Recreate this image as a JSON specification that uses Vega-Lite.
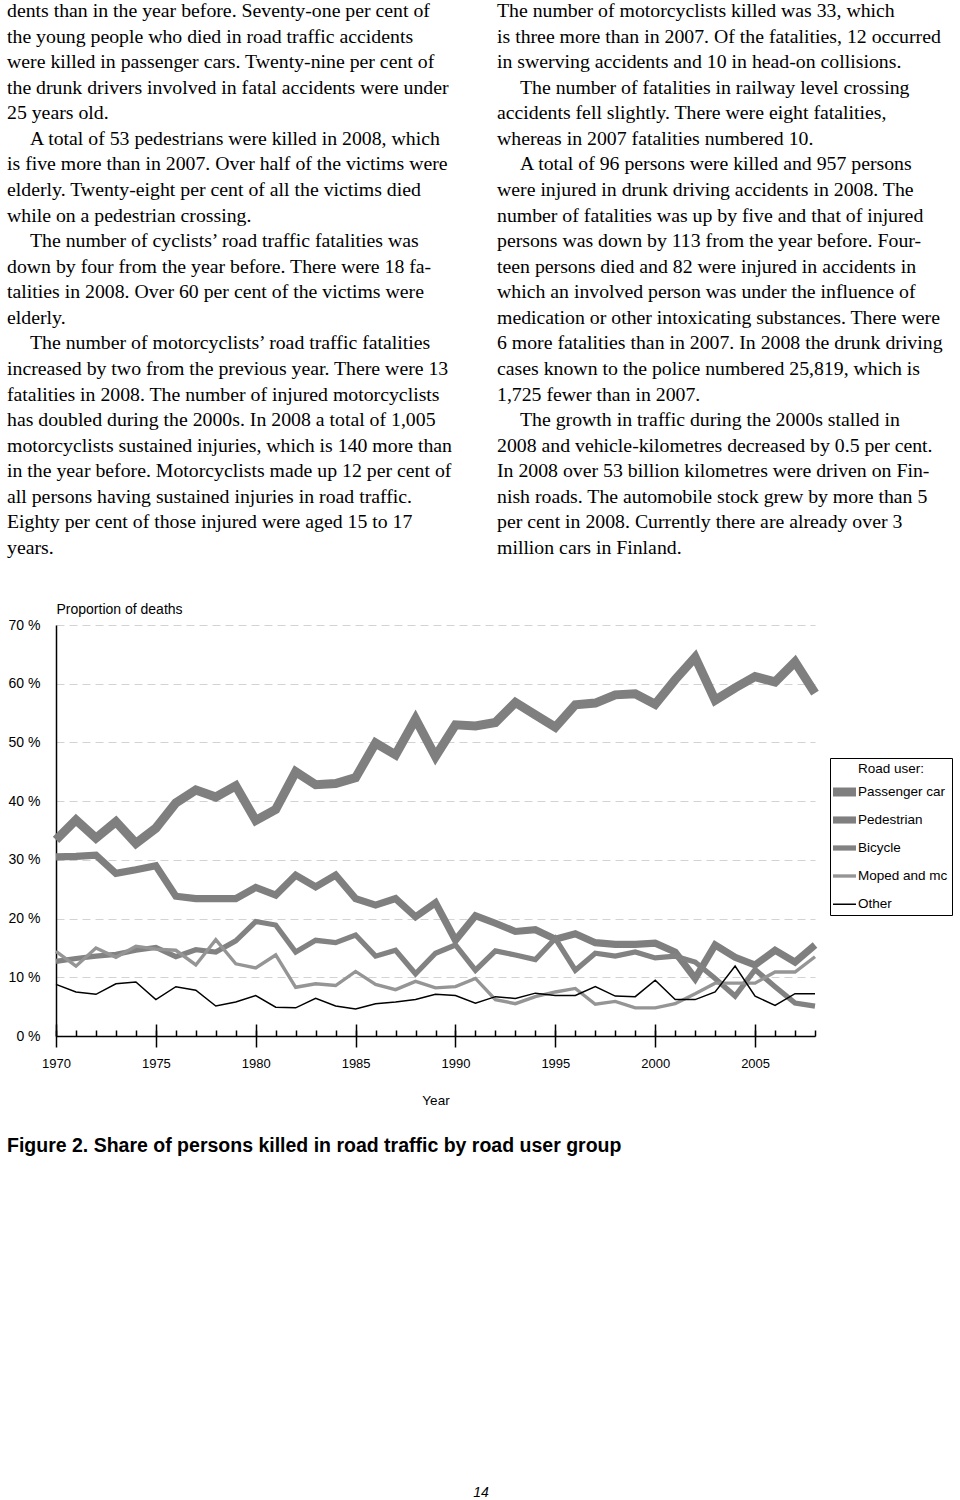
{
  "$schema": "https://vega.github.io/schema/vega-lite/v6.json",
  "padding": 0,
  "background": "white",
  "spacing": 0,
  "bounds": "flush",
  "config": {"view": {"stroke": null}},
  "vconcat": [
    {
      "width": 960,
      "height": 625,
      "data": {"values": [
        {"col": 0, "line": 1, "indent": false, "text": "dents than in the year before. Seventy-one per cent of"},
        {"col": 0, "line": 2, "indent": false, "text": "the young people who died in road traffic accidents"},
        {"col": 0, "line": 3, "indent": false, "text": "were killed in passenger cars. Twenty-nine per cent of"},
        {"col": 0, "line": 4, "indent": false, "text": "the drunk drivers involved in fatal accidents were under"},
        {"col": 0, "line": 5, "indent": false, "text": "25 years old."},
        {"col": 0, "line": 6, "indent": true, "text": "A total of 53 pedestrians were killed in 2008, which"},
        {"col": 0, "line": 7, "indent": false, "text": "is five more than in 2007. Over half of the victims were"},
        {"col": 0, "line": 8, "indent": false, "text": "elderly. Twenty-eight per cent of all the victims died"},
        {"col": 0, "line": 9, "indent": false, "text": "while on a pedestrian crossing."},
        {"col": 0, "line": 10, "indent": true, "text": "The number of cyclists’ road traffic fatalities was"},
        {"col": 0, "line": 11, "indent": false, "text": "down by four from the year before. There were 18 fa-"},
        {"col": 0, "line": 12, "indent": false, "text": "talities in 2008. Over 60 per cent of the victims were"},
        {"col": 0, "line": 13, "indent": false, "text": "elderly."},
        {"col": 0, "line": 14, "indent": true, "text": "The number of motorcyclists’ road traffic fatalities"},
        {"col": 0, "line": 15, "indent": false, "text": "increased by two from the previous year. There were 13"},
        {"col": 0, "line": 16, "indent": false, "text": "fatalities in 2008. The number of injured motorcyclists"},
        {"col": 0, "line": 17, "indent": false, "text": "has doubled during the 2000s. In 2008 a total of 1,005"},
        {"col": 0, "line": 18, "indent": false, "text": "motorcyclists sustained injuries, which is 140 more than"},
        {"col": 0, "line": 19, "indent": false, "text": "in the year before. Motorcyclists made up 12 per cent of"},
        {"col": 0, "line": 20, "indent": false, "text": "all persons having sustained injuries in road traffic."},
        {"col": 0, "line": 21, "indent": false, "text": "Eighty per cent of those injured were aged 15 to 17"},
        {"col": 0, "line": 22, "indent": false, "text": "years."},
        {"col": 1, "line": 1, "indent": false, "text": "The number of motorcyclists killed was 33, which"},
        {"col": 1, "line": 2, "indent": false, "text": "is three more than in 2007. Of the fatalities, 12 occurred"},
        {"col": 1, "line": 3, "indent": false, "text": "in swerving accidents and 10 in head-on collisions."},
        {"col": 1, "line": 4, "indent": true, "text": "The number of fatalities in railway level crossing"},
        {"col": 1, "line": 5, "indent": false, "text": "accidents fell slightly. There were eight fatalities,"},
        {"col": 1, "line": 6, "indent": false, "text": "whereas in 2007 fatalities numbered 10."},
        {"col": 1, "line": 7, "indent": true, "text": "A total of 96 persons were killed and 957 persons"},
        {"col": 1, "line": 8, "indent": false, "text": "were injured in drunk driving accidents in 2008. The"},
        {"col": 1, "line": 9, "indent": false, "text": "number of fatalities was up by five and that of injured"},
        {"col": 1, "line": 10, "indent": false, "text": "persons was down by 113 from the year before. Four-"},
        {"col": 1, "line": 11, "indent": false, "text": "teen persons died and 82 were injured in accidents in"},
        {"col": 1, "line": 12, "indent": false, "text": "which an involved person was under the influence of"},
        {"col": 1, "line": 13, "indent": false, "text": "medication or other intoxicating substances. There were"},
        {"col": 1, "line": 14, "indent": false, "text": "6 more fatalities than in 2007. In 2008 the drunk driving"},
        {"col": 1, "line": 15, "indent": false, "text": "cases known to the police numbered 25,819, which is"},
        {"col": 1, "line": 16, "indent": false, "text": "1,725 fewer than in 2007."},
        {"col": 1, "line": 17, "indent": true, "text": "The growth in traffic during the 2000s stalled in"},
        {"col": 1, "line": 18, "indent": false, "text": "2008 and vehicle-kilometres decreased by 0.5 per cent."},
        {"col": 1, "line": 19, "indent": false, "text": "In 2008 over 53 billion kilometres were driven on Fin-"},
        {"col": 1, "line": 20, "indent": false, "text": "nish roads. The automobile stock grew by more than 5"},
        {"col": 1, "line": 21, "indent": false, "text": "per cent in 2008. Currently there are already over 3"},
        {"col": 1, "line": 22, "indent": false, "text": "million cars in Finland."}
      ]},
      "encoding": {
        "x": {"field": "col", "type": "quantitative", "scale": {"domain": [0, 1], "range": [7, 497], "nice": false, "zero": false}, "axis": null},
        "y": {"field": "line", "type": "quantitative", "scale": {"domain": [1, 22], "range": [11, 548], "nice": false, "zero": false}, "axis": null},
        "text": {"field": "text", "type": "nominal"}
      },
      "layer": [
        {"transform": [{"filter": "!datum.indent"}], "mark": {"type": "text", "align": "left", "baseline": "middle", "font": "Liberation Serif", "fontSize": 19.8, "color": "black"}},
        {"transform": [{"filter": "datum.indent"}], "mark": {"type": "text", "align": "left", "baseline": "middle", "font": "Liberation Serif", "fontSize": 19.8, "color": "black", "dx": 23}}
      ]
    },
    {
      "spacing": 0,
      "bounds": "flush",
      "hconcat": [
        {"width": 56, "height": 411, "data": {"values": []}, "mark": "text", "encoding": {}},
        {
          "width": 759,
          "height": 411,
          "data": {"values": [
            {"year":1970,"user":"Passenger car","pct":33.4},{"year":1971,"user":"Passenger car","pct":36.8},{"year":1972,"user":"Passenger car","pct":33.7},{"year":1973,"user":"Passenger car","pct":36.5},{"year":1974,"user":"Passenger car","pct":32.8},{"year":1975,"user":"Passenger car","pct":35.4},{"year":1976,"user":"Passenger car","pct":39.7},{"year":1977,"user":"Passenger car","pct":41.9},{"year":1978,"user":"Passenger car","pct":40.7},{"year":1979,"user":"Passenger car","pct":42.6},{"year":1980,"user":"Passenger car","pct":36.7},{"year":1981,"user":"Passenger car","pct":38.6},{"year":1982,"user":"Passenger car","pct":45.0},{"year":1983,"user":"Passenger car","pct":42.8},{"year":1984,"user":"Passenger car","pct":43.0},{"year":1985,"user":"Passenger car","pct":44.0},{"year":1986,"user":"Passenger car","pct":49.9},{"year":1987,"user":"Passenger car","pct":47.9},{"year":1988,"user":"Passenger car","pct":54.0},{"year":1989,"user":"Passenger car","pct":47.6},{"year":1990,"user":"Passenger car","pct":53.0},{"year":1991,"user":"Passenger car","pct":52.8},{"year":1992,"user":"Passenger car","pct":53.4},{"year":1993,"user":"Passenger car","pct":56.8},{"year":1994,"user":"Passenger car","pct":54.7},{"year":1995,"user":"Passenger car","pct":52.6},{"year":1996,"user":"Passenger car","pct":56.4},{"year":1997,"user":"Passenger car","pct":56.7},{"year":1998,"user":"Passenger car","pct":58.1},{"year":1999,"user":"Passenger car","pct":58.3},{"year":2000,"user":"Passenger car","pct":56.5},{"year":2001,"user":"Passenger car","pct":60.7},{"year":2002,"user":"Passenger car","pct":64.5},{"year":2003,"user":"Passenger car","pct":57.2},{"year":2004,"user":"Passenger car","pct":59.3},{"year":2005,"user":"Passenger car","pct":61.2},{"year":2006,"user":"Passenger car","pct":60.3},{"year":2007,"user":"Passenger car","pct":63.7},{"year":2008,"user":"Passenger car","pct":58.4},
            {"year":1970,"user":"Pedestrian","pct":30.5},{"year":1971,"user":"Pedestrian","pct":30.6},{"year":1972,"user":"Pedestrian","pct":30.8},{"year":1973,"user":"Pedestrian","pct":27.7},{"year":1974,"user":"Pedestrian","pct":28.3},{"year":1975,"user":"Pedestrian","pct":29.0},{"year":1976,"user":"Pedestrian","pct":23.8},{"year":1977,"user":"Pedestrian","pct":23.4},{"year":1978,"user":"Pedestrian","pct":23.4},{"year":1979,"user":"Pedestrian","pct":23.4},{"year":1980,"user":"Pedestrian","pct":25.3},{"year":1981,"user":"Pedestrian","pct":24.0},{"year":1982,"user":"Pedestrian","pct":27.4},{"year":1983,"user":"Pedestrian","pct":25.4},{"year":1984,"user":"Pedestrian","pct":27.4},{"year":1985,"user":"Pedestrian","pct":23.4},{"year":1986,"user":"Pedestrian","pct":22.3},{"year":1987,"user":"Pedestrian","pct":23.4},{"year":1988,"user":"Pedestrian","pct":20.3},{"year":1989,"user":"Pedestrian","pct":22.7},{"year":1990,"user":"Pedestrian","pct":16.3},{"year":1991,"user":"Pedestrian","pct":20.5},{"year":1992,"user":"Pedestrian","pct":19.2},{"year":1993,"user":"Pedestrian","pct":17.8},{"year":1994,"user":"Pedestrian","pct":18.1},{"year":1995,"user":"Pedestrian","pct":16.5},{"year":1996,"user":"Pedestrian","pct":17.4},{"year":1997,"user":"Pedestrian","pct":15.9},{"year":1998,"user":"Pedestrian","pct":15.6},{"year":1999,"user":"Pedestrian","pct":15.6},{"year":2000,"user":"Pedestrian","pct":15.8},{"year":2001,"user":"Pedestrian","pct":14.3},{"year":2002,"user":"Pedestrian","pct":9.8},{"year":2003,"user":"Pedestrian","pct":15.5},{"year":2004,"user":"Pedestrian","pct":13.4},{"year":2005,"user":"Pedestrian","pct":12.1},{"year":2006,"user":"Pedestrian","pct":14.6},{"year":2007,"user":"Pedestrian","pct":12.6},{"year":2008,"user":"Pedestrian","pct":15.5},
            {"year":1970,"user":"Bicycle","pct":12.7},{"year":1971,"user":"Bicycle","pct":13.2},{"year":1972,"user":"Bicycle","pct":13.6},{"year":1973,"user":"Bicycle","pct":13.9},{"year":1974,"user":"Bicycle","pct":14.6},{"year":1975,"user":"Bicycle","pct":15.1},{"year":1976,"user":"Bicycle","pct":13.5},{"year":1977,"user":"Bicycle","pct":14.7},{"year":1978,"user":"Bicycle","pct":14.3},{"year":1979,"user":"Bicycle","pct":16.2},{"year":1980,"user":"Bicycle","pct":19.5},{"year":1981,"user":"Bicycle","pct":18.9},{"year":1982,"user":"Bicycle","pct":14.3},{"year":1983,"user":"Bicycle","pct":16.3},{"year":1984,"user":"Bicycle","pct":15.9},{"year":1985,"user":"Bicycle","pct":17.2},{"year":1986,"user":"Bicycle","pct":13.6},{"year":1987,"user":"Bicycle","pct":14.6},{"year":1988,"user":"Bicycle","pct":10.6},{"year":1989,"user":"Bicycle","pct":14.1},{"year":1990,"user":"Bicycle","pct":15.5},{"year":1991,"user":"Bicycle","pct":11.2},{"year":1992,"user":"Bicycle","pct":14.5},{"year":1993,"user":"Bicycle","pct":13.8},{"year":1994,"user":"Bicycle","pct":13.0},{"year":1995,"user":"Bicycle","pct":16.6},{"year":1996,"user":"Bicycle","pct":11.2},{"year":1997,"user":"Bicycle","pct":14.1},{"year":1998,"user":"Bicycle","pct":13.6},{"year":1999,"user":"Bicycle","pct":14.3},{"year":2000,"user":"Bicycle","pct":13.3},{"year":2001,"user":"Bicycle","pct":13.6},{"year":2002,"user":"Bicycle","pct":12.6},{"year":2003,"user":"Bicycle","pct":9.8},{"year":2004,"user":"Bicycle","pct":6.8},{"year":2005,"user":"Bicycle","pct":11.3},{"year":2006,"user":"Bicycle","pct":8.4},{"year":2007,"user":"Bicycle","pct":5.6},{"year":2008,"user":"Bicycle","pct":5.1},
            {"year":1970,"user":"Moped and mc","pct":14.4},{"year":1971,"user":"Moped and mc","pct":11.9},{"year":1972,"user":"Moped and mc","pct":15.0},{"year":1973,"user":"Moped and mc","pct":13.4},{"year":1974,"user":"Moped and mc","pct":15.3},{"year":1975,"user":"Moped and mc","pct":14.8},{"year":1976,"user":"Moped and mc","pct":14.6},{"year":1977,"user":"Moped and mc","pct":12.1},{"year":1978,"user":"Moped and mc","pct":16.4},{"year":1979,"user":"Moped and mc","pct":12.3},{"year":1980,"user":"Moped and mc","pct":11.6},{"year":1981,"user":"Moped and mc","pct":13.8},{"year":1982,"user":"Moped and mc","pct":8.3},{"year":1983,"user":"Moped and mc","pct":8.9},{"year":1984,"user":"Moped and mc","pct":8.6},{"year":1985,"user":"Moped and mc","pct":11.0},{"year":1986,"user":"Moped and mc","pct":8.8},{"year":1987,"user":"Moped and mc","pct":7.9},{"year":1988,"user":"Moped and mc","pct":9.3},{"year":1989,"user":"Moped and mc","pct":8.2},{"year":1990,"user":"Moped and mc","pct":8.4},{"year":1991,"user":"Moped and mc","pct":9.8},{"year":1992,"user":"Moped and mc","pct":6.2},{"year":1993,"user":"Moped and mc","pct":5.5},{"year":1994,"user":"Moped and mc","pct":6.7},{"year":1995,"user":"Moped and mc","pct":7.5},{"year":1996,"user":"Moped and mc","pct":8.1},{"year":1997,"user":"Moped and mc","pct":5.4},{"year":1998,"user":"Moped and mc","pct":5.9},{"year":1999,"user":"Moped and mc","pct":4.8},{"year":2000,"user":"Moped and mc","pct":4.8},{"year":2001,"user":"Moped and mc","pct":5.5},{"year":2002,"user":"Moped and mc","pct":7.2},{"year":2003,"user":"Moped and mc","pct":9.0},{"year":2004,"user":"Moped and mc","pct":9.0},{"year":2005,"user":"Moped and mc","pct":9.0},{"year":2006,"user":"Moped and mc","pct":10.9},{"year":2007,"user":"Moped and mc","pct":10.9},{"year":2008,"user":"Moped and mc","pct":13.5},
            {"year":1970,"user":"Other","pct":8.8},{"year":1971,"user":"Other","pct":7.5},{"year":1972,"user":"Other","pct":7.1},{"year":1973,"user":"Other","pct":8.9},{"year":1974,"user":"Other","pct":9.2},{"year":1975,"user":"Other","pct":6.2},{"year":1976,"user":"Other","pct":8.4},{"year":1977,"user":"Other","pct":7.8},{"year":1978,"user":"Other","pct":5.1},{"year":1979,"user":"Other","pct":5.8},{"year":1980,"user":"Other","pct":6.9},{"year":1981,"user":"Other","pct":4.9},{"year":1982,"user":"Other","pct":4.8},{"year":1983,"user":"Other","pct":6.4},{"year":1984,"user":"Other","pct":5.1},{"year":1985,"user":"Other","pct":4.6},{"year":1986,"user":"Other","pct":5.5},{"year":1987,"user":"Other","pct":5.8},{"year":1988,"user":"Other","pct":6.2},{"year":1989,"user":"Other","pct":7.1},{"year":1990,"user":"Other","pct":6.9},{"year":1991,"user":"Other","pct":5.6},{"year":1992,"user":"Other","pct":6.7},{"year":1993,"user":"Other","pct":6.4},{"year":1994,"user":"Other","pct":7.3},{"year":1995,"user":"Other","pct":6.9},{"year":1996,"user":"Other","pct":6.9},{"year":1997,"user":"Other","pct":8.4},{"year":1998,"user":"Other","pct":6.8},{"year":1999,"user":"Other","pct":6.7},{"year":2000,"user":"Other","pct":9.5},{"year":2001,"user":"Other","pct":6.2},{"year":2002,"user":"Other","pct":6.2},{"year":2003,"user":"Other","pct":7.5},{"year":2004,"user":"Other","pct":11.9},{"year":2005,"user":"Other","pct":6.8},{"year":2006,"user":"Other","pct":5.2},{"year":2007,"user":"Other","pct":7.2},{"year":2008,"user":"Other","pct":7.2}
          ]},
          "encoding": {
            "y": {
              "field": "pct", "type": "quantitative",
              "scale": {"domain": [0, 70], "nice": false, "zero": true},
              "axis": {
                "values": [0, 10, 20, 30, 40, 50, 60, 70],
                "labelExpr": "datum.value + ' %'",
                "ticks": false,
                "labelPadding": 16,
                "labelFont": "Liberation Sans", "labelFontSize": 14, "labelColor": "black",
                "domainColor": "black", "domainWidth": 1.5,
                "grid": true, "gridDash": [8, 5], "gridColor": "#d3d3d3", "gridWidth": 1,
                "title": "Proportion of deaths",
                "titleAngle": 0, "titleX": 0, "titleY": -16, "titleAlign": "left", "titleBaseline": "middle",
                "titleFont": "Liberation Sans", "titleFontSize": 14, "titleFontWeight": "normal", "titleColor": "black"
              }
            }
          },
          "layer": [
            {
              "mark": {"type": "line", "strokeJoin": "miter", "strokeCap": "butt"},
              "encoding": {
                "x": {
                  "field": "year", "type": "quantitative",
                  "scale": {"domain": [1970, 2008], "nice": false, "zero": false},
                  "axis": {
                    "orient": "bottom",
                    "values": [1970,1971,1972,1973,1974,1975,1976,1977,1978,1979,1980,1981,1982,1983,1984,1985,1986,1987,1988,1989,1990,1991,1992,1993,1994,1995,1996,1997,1998,1999,2000,2001,2002,2003,2004,2005,2006,2007,2008],
                    "tickSize": -6, "tickColor": "black", "tickWidth": 1.5,
                    "labels": false, "grid": false,
                    "domain": true, "domainColor": "black", "domainWidth": 1.5,
                    "title": null
                  }
                },
                "color": {
                  "field": "user", "type": "nominal",
                  "scale": {"domain": ["Passenger car", "Pedestrian", "Bicycle", "Moped and mc", "Other"], "range": ["#7f7f7f", "#7f7f7f", "#828282", "#959595", "#000000"]},
                  "legend": {
                    "orient": "none", "legendX": 830, "legendY": 758,
                    "title": "Road user:", "titleAnchor": "middle", "titleFont": "Liberation Sans", "titleFontSize": 13.5, "titleFontWeight": "normal", "titleColor": "black", "titlePadding": 6,
                    "labelFont": "Liberation Sans", "labelFontSize": 13.5, "labelColor": "black", "labelOffset": 3,
                    "symbolType": "M-2,0H2", "symbolSize": 132, "symbolOffset": 0, "rowPadding": -12, "gridAlign": "all",
                    "strokeColor": "black", "fillColor": "white", "padding": 4
                  }
                },
                "strokeWidth": {
                  "field": "user", "type": "nominal",
                  "scale": {"type": "point", "padding": 0, "domain": ["Passenger car", "Pedestrian", "Bicycle", "Moped and mc", "Other"], "range": [9, 1.5]},
                  "legend": {
                    "orient": "none", "legendX": 830, "legendY": 758,
                    "title": "Road user:", "titleAnchor": "middle", "titleFont": "Liberation Sans", "titleFontSize": 13.5, "titleFontWeight": "normal", "titleColor": "black", "titlePadding": 6,
                    "labelFont": "Liberation Sans", "labelFontSize": 13.5, "labelColor": "black", "labelOffset": 3,
                    "symbolType": "M-2,0H2", "symbolSize": 132, "symbolOffset": 0, "rowPadding": -12, "gridAlign": "all",
                    "strokeColor": "black", "fillColor": "white", "padding": 4
                  }
                }
              }
            },
            {
              "mark": {"type": "point", "opacity": 0},
              "encoding": {
                "x": {
                  "field": "year", "type": "quantitative",
                  "axis": {
                    "orient": "bottom",
                    "values": [1970, 1975, 1980, 1985, 1990, 1995, 2000, 2005],
                    "format": "d",
                    "tickSize": 11, "tickColor": "black", "tickWidth": 1.5,
                    "labelFont": "Liberation Sans", "labelFontSize": 13, "labelColor": "black", "labelPadding": 10, "labelFlush": false,
                    "grid": false, "domain": false,
                    "title": "Year", "titleFont": "Liberation Sans", "titleFontSize": 13.5, "titleFontWeight": "normal", "titleColor": "black", "titlePadding": 23
                  }
                }
              }
            },
            {
              "mark": {"type": "point", "opacity": 0},
              "encoding": {
                "x": {
                  "field": "year", "type": "quantitative",
                  "axis": {
                    "orient": "bottom",
                    "values": [1970, 1975, 1980, 1985, 1990, 1995, 2000, 2005],
                    "tickSize": -12, "tickColor": "black", "tickWidth": 1.5,
                    "labels": false, "grid": false, "domain": false, "title": null
                  }
                }
              }
            }
          ],
          "resolve": {"axis": {"x": "independent"}}
        }
      ]
    },
    {
      "width": 960,
      "height": 875,
      "data": {"values": [
        {"part": "caption", "text": "Figure 2.  Share of persons killed in road traffic by road user group"},
        {"part": "page", "text": "14"}
      ]},
      "encoding": {
        "x": {"field": "part", "type": "ordinal", "scale": {"domain": ["caption", "page"], "range": [7, 481], "padding": 0}, "axis": null},
        "y": {"field": "part", "type": "ordinal", "scale": {"domain": ["caption", "page"], "range": [521, 868], "padding": 0}, "axis": null},
        "text": {"field": "text", "type": "nominal"}
      },
      "layer": [
        {"transform": [{"filter": "datum.part === 'caption'"}], "mark": {"type": "text", "align": "left", "baseline": "middle", "font": "Liberation Sans", "fontSize": 19.5, "fontWeight": "bold", "color": "black"}},
        {"transform": [{"filter": "datum.part === 'page'"}], "mark": {"type": "text", "align": "center", "baseline": "middle", "font": "Liberation Sans", "fontSize": 14, "fontStyle": "italic", "color": "black"}}
      ]
    }
  ]
}
